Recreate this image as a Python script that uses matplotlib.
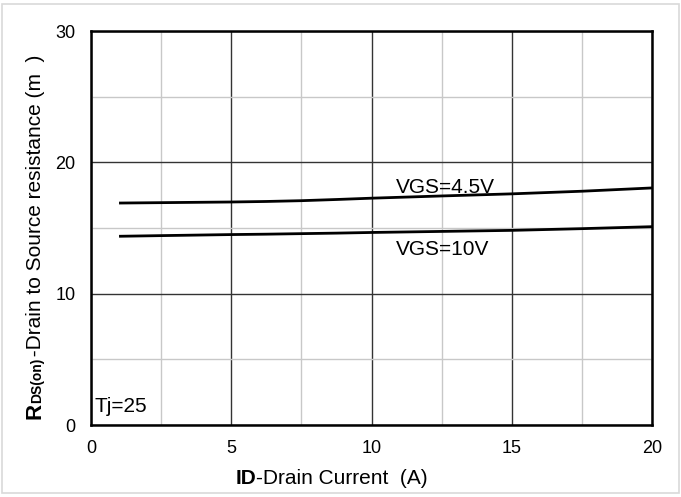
import matplotlib.pyplot as plt
from matplotlib.patches import Rectangle
from matplotlib.ticker import MultipleLocator

plt.rcParams['font.family'] = ['Liberation Sans', 'DejaVu Sans']

# drain current (A) and on-resistance (mOhm) at Tj=25
id_a = [1, 2.5, 5, 6.25, 7.5, 8.75, 10, 12.5, 15, 17.5, 20]
rds_45v = [16.9, 16.93, 16.98, 17.02, 17.08, 17.17, 17.27, 17.44, 17.6, 17.8, 18.05]
rds_10v = [14.37, 14.42, 14.5, 14.53, 14.57, 14.61, 14.66, 14.74, 14.82, 14.95, 15.1]

W, H = 681, 497
fig = plt.figure(figsize=(W / 100, H / 100), dpi=100)
ax = fig.add_axes([91 / W, 1 - 425 / H, (652 - 91) / W, (425 - 31) / H])

ax.plot(id_a, rds_45v, color='black', lw=2.0, solid_capstyle='butt')
ax.plot(id_a, rds_10v, color='black', lw=2.0, solid_capstyle='butt')

ax.set_xlim(0, 20)
ax.set_ylim(0, 30)
ax.xaxis.set_major_locator(MultipleLocator(5))
ax.xaxis.set_minor_locator(MultipleLocator(2.5))
ax.yaxis.set_major_locator(MultipleLocator(10))
ax.yaxis.set_minor_locator(MultipleLocator(5))
ax.grid(True, which='major', color='#333333', lw=1.0)
ax.grid(True, which='minor', color='#c8c8c8', lw=1.0)
ax.set_axisbelow(True)
ax.tick_params(which='both', length=0, labelsize=13)
ax.tick_params(axis='x', pad=11)
ax.tick_params(axis='y', pad=11)
for s in ax.spines.values():
    s.set_linewidth(1.8)
    s.set_color('black')

ax.text(10.87, 17.69, 'VGS=4.5V', fontsize=15, ha='left', va='baseline')
ax.text(10.87, 12.95, 'VGS=10V', fontsize=15, ha='left', va='baseline')
ax.text(0.14, 0.99, 'Tj=25', fontsize=15, ha='left', va='baseline')

# x label: bold "ID" then the rest
fig.text(256 / W, 1 - 484 / H, 'ID', fontsize=15, fontweight='bold', ha='right', va='baseline')
fig.text(256 / W, 1 - 484 / H, '-Drain Current  (A)', fontsize=15, ha='left', va='baseline')

# y label, rotated, built from three pieces
fig.text(41 / W, 1 - 419 / H, 'R', fontsize=16, fontweight='bold', rotation=90,
         rotation_mode='anchor', ha='left', va='baseline')
fig.text(41 / W, 1 - 403 / H, 'DS(on)', fontsize=10, fontweight='bold', rotation=90,
         rotation_mode='anchor', ha='left', va='baseline')
fig.text(41 / W, 1 - 362 / H, ' -Drain to Source resistance (m  )', fontsize=15, rotation=90,
         rotation_mode='anchor', ha='left', va='baseline')

# light frame around the figure
fig.patches.append(Rectangle((2 / W, 1 - 493 / H), 677 / W, 489 / H, transform=fig.transFigure,
                             fill=False, edgecolor='#d9d9d9', lw=1.2))

fig.savefig('out.png', dpi=100)
